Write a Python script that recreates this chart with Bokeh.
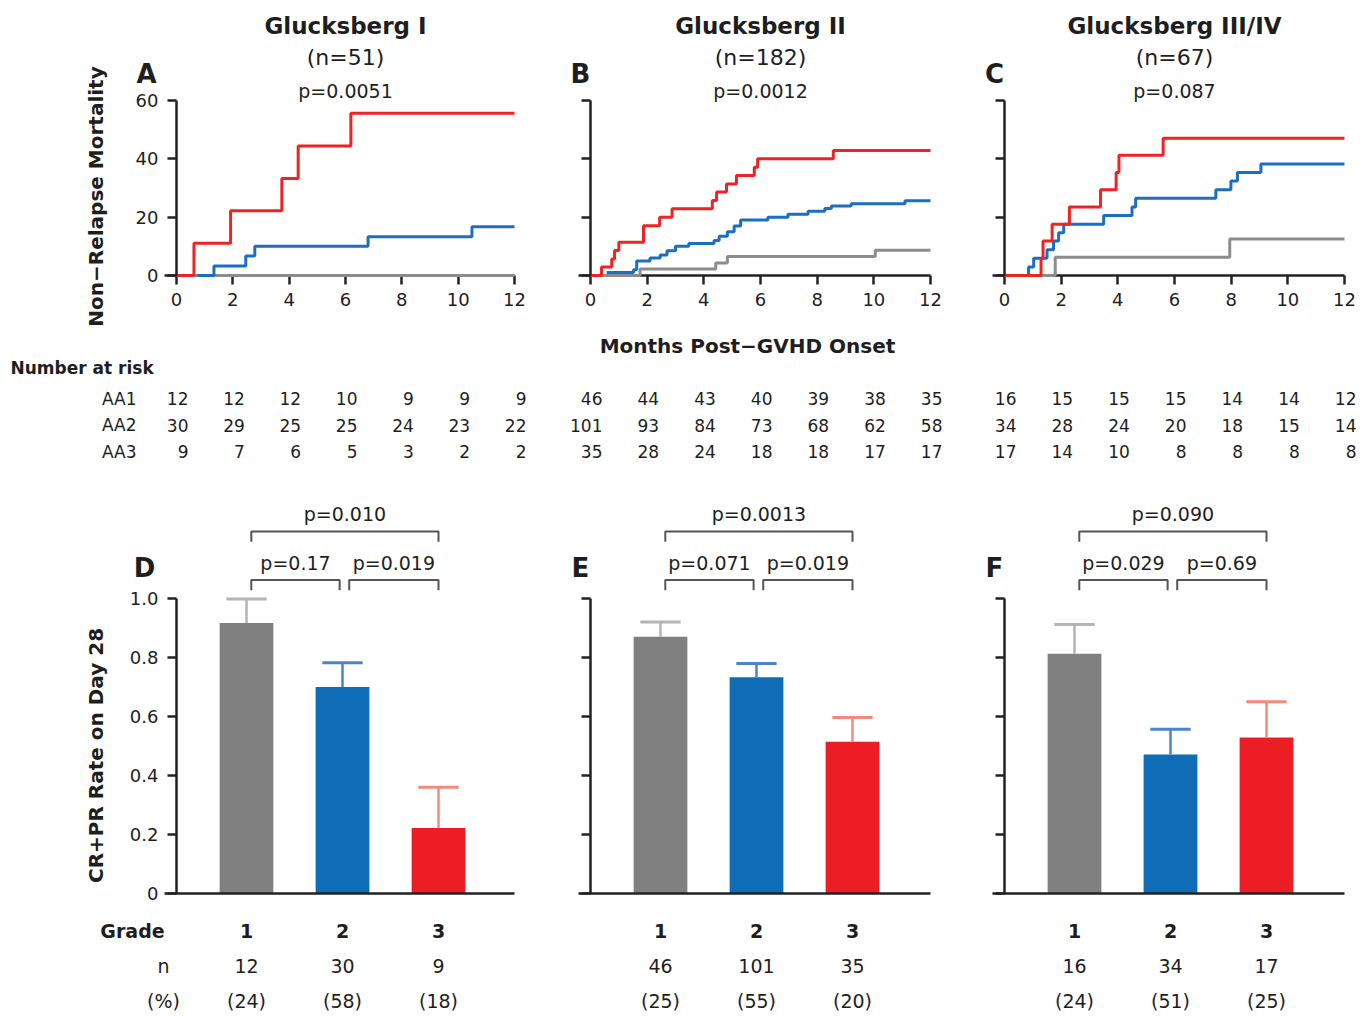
import math
from bokeh.plotting import figure
from bokeh.models import Range1d, FixedTicker
from bokeh.layouts import row, column
from bokeh.embed import file_html
from bokeh.resources import INLINE
from bokeh.core.properties import value

# ---------------- data ----------------
months = [0, 2, 4, 6, 8, 10, 12]
km_y_ticks = [0, 20, 40, 60]
rate_ticks = [0, 0.2, 0.4, 0.6, 0.8, 1.0]
rate_tick_labels = ["0", "0.2", "0.4", "0.6", "0.8", "1.0"]
stage_titles = ["Glucksberg I", "Glucksberg II", "Glucksberg III/IV"]
stage_n = ["(n=51)", "(n=182)", "(n=67)"]
km_pvalues = ["p=0.0051", "p=0.0012", "p=0.087"]
km_letters = ["A", "B", "C"]
bar_letters = ["D", "E", "F"]
groups = ["AA1", "AA2", "AA3"]
km_ylabel = "Non\u2212Relapse Mortality"
km_xlabel = "Months Post\u2212GVHD Onset"
risk_title = "Number at risk"
bar_ylabel = "CR+PR Rate on Day 28"
row_names = ["Grade", "n", "(%)"]

# Panel A (cumulative non-relapse mortality, %)
a_aa1_t = [0, 12]
a_aa1_nrm = [0, 0]
a_aa2_t = [0.74, 1.33, 2.46, 2.78, 6.80, 10.49, 12]
a_aa2_nrm = [0, 3.3, 6.7, 10.0, 13.3, 16.7, 16.7]
a_aa3_t = [0, 0.62, 1.92, 3.74, 4.32, 6.19, 12]
a_aa3_nrm = [0, 11.1, 22.2, 33.3, 44.4, 55.6, 55.6]

# Panel B
b_aa1_t = [0, 1.75, 4.42, 4.83, 10.05, 12]
b_aa1_nrm = [0, 2.2, 4.3, 6.5, 8.7, 8.7]
b_aa2_t = [0.57, 1.52, 1.63, 2.10, 2.46, 2.70, 3.00, 3.47, 4.36, 4.54, 4.83, 5.07,
           5.30, 6.26, 6.97, 7.68, 8.27, 8.50, 9.20, 11.10, 12]
b_aa2_nrm = [1.0, 2.0, 5.0, 6.0, 7.0, 8.5, 10.0, 11.0, 12.0, 13.5, 15.0, 17.0,
             19.0, 20.0, 21.0, 22.0, 23.0, 23.8, 24.6, 25.6, 25.6]
b_aa3_t = [0, 0.39, 0.75, 0.85, 1.00, 1.87, 2.44, 2.88, 4.30, 4.45, 4.80, 5.15,
           5.78, 5.90, 8.57, 12]
b_aa3_nrm = [0, 2.9, 5.7, 8.6, 11.4, 17.1, 20.0, 22.9, 25.7, 28.6, 31.4, 34.3,
             37.1, 40.0, 42.9, 42.9]

# Panel C
c_aa1_t = [0, 1.79, 7.95, 12]
c_aa1_nrm = [0, 6.25, 12.5, 12.5]
c_aa2_t = [0, 0.85, 1.03, 1.50, 1.73, 1.91, 2.09, 3.50, 4.50, 4.63, 7.46, 7.99,
           8.22, 9.05, 12]
c_aa2_nrm = [0, 2.9, 5.9, 8.8, 11.8, 14.7, 17.6, 20.6, 23.5, 26.5, 29.4, 32.4,
             35.3, 38.2, 38.2]
c_aa3_t = [0, 1.29, 1.36, 1.68, 2.29, 3.39, 3.94, 4.04, 5.60, 12]
c_aa3_nrm = [0, 5.9, 11.8, 17.6, 23.5, 29.4, 35.3, 41.2, 47.1, 47.1]

# Number at risk
a_risk_aa1 = [12, 12, 12, 10, 9, 9, 9]
a_risk_aa2 = [30, 29, 25, 25, 24, 23, 22]
a_risk_aa3 = [9, 7, 6, 5, 3, 2, 2]
b_risk_aa1 = [46, 44, 43, 40, 39, 38, 35]
b_risk_aa2 = [101, 93, 84, 73, 68, 62, 58]
b_risk_aa3 = [35, 28, 24, 18, 18, 17, 17]
c_risk_aa1 = [16, 15, 15, 15, 14, 14, 12]
c_risk_aa2 = [34, 28, 24, 20, 18, 15, 14]
c_risk_aa3 = [17, 14, 10, 8, 8, 8, 8]

# CR+PR rate on day 28 by grade
grades = [1, 2, 3]
d_rate = [0.917, 0.700, 0.222]
d_upper = [0.998, 0.782, 0.360]
e_rate = [0.870, 0.733, 0.514]
e_upper = [0.920, 0.780, 0.597]
f_rate = [0.813, 0.471, 0.529]
f_upper = [0.912, 0.557, 0.650]
d_n = [12, 30, 9]
d_pct = [24, 58, 18]
e_n = [46, 101, 35]
e_pct = [25, 55, 20]
f_n = [16, 34, 17]
f_pct = [24, 51, 25]
# comparisons: grade1 vs 2, grade2 vs 3, grade1 vs 3
d_pv = ["p=0.17", "p=0.019", "p=0.010"]
e_pv = ["p=0.071", "p=0.019", "p=0.0013"]
f_pv = ["p=0.029", "p=0.69", "p=0.090"]

km_curves = [
    [(a_aa1_t, a_aa1_nrm), (a_aa2_t, a_aa2_nrm), (a_aa3_t, a_aa3_nrm)],
    [(b_aa1_t, b_aa1_nrm), (b_aa2_t, b_aa2_nrm), (b_aa3_t, b_aa3_nrm)],
    [(c_aa1_t, c_aa1_nrm), (c_aa2_t, c_aa2_nrm), (c_aa3_t, c_aa3_nrm)],
]
risk = [
    [a_risk_aa1, a_risk_aa2, a_risk_aa3],
    [b_risk_aa1, b_risk_aa2, b_risk_aa3],
    [c_risk_aa1, c_risk_aa2, c_risk_aa3],
]
bar_rates = [d_rate, e_rate, f_rate]
bar_uppers = [d_upper, e_upper, f_upper]
bar_ns = [d_n, e_n, f_n]
bar_pcts = [d_pct, e_pct, f_pct]
bar_pvs = [d_pv, e_pv, f_pv]

# ---------------- style / layout ----------------
FONT = "DejaVu Sans"
TXT = "#1e1e1e"
AX = "#222222"
LINE_COLORS = ["#8c8c8c", "#1b6fc2", "#ee2323"]
BAR_COLORS = ["#808080", "#0f6db7", "#ec1d25"]
ERR_COLORS = ["#b4b4b4", "#4a84cc", "#f58a7a"]
BRACKET = "#555555"

COL_X = [0, 560, 975, 1366]        # page x boundaries of the three columns
FRAME_L = [176, 590, 1004]         # page x of each y axis
FRAME_W = [338, 340, 340]          # axis lengths
AX_EXT = 12                        # x axis line extends left of the y axis
KM_TOP, KM_BOT = 0, 331
TAB_BOT = 472
BAR_BOT = 910
N_BOT = 1015
KM_ZERO, KM_K = 275.0, 175 / 60.0  # page y of 0 %, px per %
TAB_ROW1, TAB_K = 451.0, 26.5      # page y of AA3 row, px per row
BAR_ZERO, BAR_K = 893.0, 295.0     # page y of rate 0, px per unit rate
N_ZERO, N_K = 1000.0, 35.0         # page y of (%) row, px per row
CAT_K = 96.0                       # px per grade
BAR1_OFF = 70.0                    # px from y axis to first bar centre


def month_at(ci, px):
    return (px - FRAME_L[ci]) * 12.0 / FRAME_W[ci]


def cat_at(ci, px):
    return 1 + (px - FRAME_L[ci] - BAR1_OFF) / CAT_K


def km_v(py):
    return (KM_ZERO - py) / KM_K


def tab_v(py):
    return 1 + (TAB_ROW1 - py) / TAB_K


def bar_v(py):
    return (BAR_ZERO - py) / BAR_K


def n_v(py):
    return (N_ZERO - py) / N_K


def make_fig(ci, xr, y0, y1, h, axes):
    w = COL_X[ci + 1] - COL_X[ci]
    p = figure(width=w, height=h, x_range=xr, y_range=Range1d(y0, y1),
               output_backend="svg", toolbar_location=None,
               x_axis_location="below" if axes else None,
               y_axis_location="left" if axes else None)
    p.min_border_left = 0
    p.min_border_right = 0
    p.min_border_top = 0
    p.min_border_bottom = 0
    p.outline_line_color = None
    p.background_fill_color = "white"
    p.border_fill_color = "white"
    p.grid.visible = False
    return p


def style_axis(ax, tick_out=9):
    ax.axis_line_width = 2.5
    ax.axis_line_color = AX
    ax.major_tick_line_width = 2.5
    ax.major_tick_line_color = AX
    ax.major_tick_out = tick_out
    ax.major_tick_in = 0
    ax.minor_tick_line_color = None
    ax.major_label_text_font = FONT
    ax.major_label_text_color = TXT


def put_text(p, x, y, texts, size, bold=False, align="center", angle=0.0, x_offset=0):
    p.text(x=x, y=y, text=texts, text_font=value(FONT), text_font_size=size,
           text_font_style="bold" if bold else "normal", text_align=align,
           text_baseline="middle", text_color=TXT, angle=angle, x_offset=x_offset)


columns = []
for ci in range(3):
    # ---------- NRM panel ----------
    mxr = Range1d(month_at(ci, COL_X[ci]), month_at(ci, COL_X[ci + 1]))
    km = make_fig(ci, mxr, km_v(KM_BOT), km_v(KM_TOP), KM_BOT - KM_TOP, True)
    for (t, v), colr in zip(km_curves[ci], LINE_COLORS):
        km.step(t, v, mode="after", line_width=3, line_color=colr)
    style_axis(km.xaxis[0])
    style_axis(km.yaxis[0])
    km.xaxis.level = "underlay"
    km.xaxis.fixed_location = 0
    km.yaxis.fixed_location = 0
    km.xaxis.ticker = FixedTicker(ticks=months)
    km.xaxis.bounds = (month_at(ci, FRAME_L[ci] - AX_EXT), 12)
    km.xaxis.major_label_text_font_size = "18px"
    km.xaxis.major_label_standoff = 8
    km.yaxis.ticker = FixedTicker(ticks=km_y_ticks)
    km.yaxis.bounds = (0, 60)
    km.yaxis.major_label_standoff = 9
    km.yaxis.major_label_text_font_size = "18px"
    if ci != 0:
        km.yaxis.major_label_overrides = {t: "" for t in km_y_ticks}
    else:
        put_text(km, [month_at(0, 95)], [km_v(196)], [km_ylabel], "20px", bold=True,
                 angle=math.pi / 2)
    put_text(km, [6], [km_v(25)], [stage_titles[ci]], "23px", bold=True)
    put_text(km, [6], [km_v(57)], [stage_n[ci]], "22px")
    put_text(km, [6], [km_v(90)], [km_pvalues[ci]], "19px")
    letter_dx = -30 if ci == 0 else -10
    put_text(km, [month_at(ci, FRAME_L[ci] + letter_dx)], [km_v(73)], [km_letters[ci]],
             "26px", bold=True)

    # ---------- number at risk ----------
    tab = make_fig(ci, mxr, tab_v(TAB_BOT), tab_v(KM_BOT), TAB_BOT - KM_BOT, False)
    for gi, counts in enumerate(risk[ci]):
        row_y = 3 - gi
        put_text(tab, months, [row_y] * len(months), [str(c) for c in counts], "17px",
                 align="right", x_offset=12)
        if ci == 0:
            put_text(tab, [month_at(0, 136)], [row_y], [groups[gi]], "17px", align="right")
    if ci == 0:
        put_text(tab, [month_at(0, 10)], [tab_v(367)], [risk_title], "17px", bold=True,
                 align="left")
    if ci == 1:
        put_text(tab, [month_at(1, 747)], [tab_v(345)], [km_xlabel], "20px", bold=True)

    # ---------- CR+PR bars ----------
    cxr = Range1d(cat_at(ci, COL_X[ci]), cat_at(ci, COL_X[ci + 1]))
    axis_x = cat_at(ci, FRAME_L[ci])
    bar = make_fig(ci, cxr, bar_v(BAR_BOT), bar_v(TAB_BOT), BAR_BOT - TAB_BOT, True)
    rates = bar_rates[ci]
    ups = bar_uppers[ci]
    bar.vbar(x=grades, top=rates, width=0.56, fill_color=BAR_COLORS, line_color=None)
    bar.segment(x0=grades, y0=rates, x1=grades, y1=ups, line_color=ERR_COLORS, line_width=2.5)
    bar.segment(x0=[g - 0.21 for g in grades], y0=ups, x1=[g + 0.21 for g in grades],
                y1=ups, line_color=ERR_COLORS, line_width=3)
    style_axis(bar.yaxis[0])
    style_axis(bar.xaxis[0], tick_out=0)
    bar.yaxis.fixed_location = axis_x
    bar.xaxis.fixed_location = 0
    bar.yaxis.ticker = FixedTicker(ticks=rate_ticks)
    bar.yaxis.bounds = (0, 1)
    bar.yaxis.major_label_standoff = 9
    bar.yaxis.major_label_text_font_size = "18px"
    if ci == 0:
        bar.yaxis.major_label_overrides = dict(zip(rate_ticks, rate_tick_labels))
        put_text(bar, [cat_at(0, 95)], [bar_v(755)], [bar_ylabel], "20px", bold=True,
                 angle=math.pi / 2)
    else:
        bar.yaxis.major_label_overrides = {t: "" for t in rate_ticks}
    bar.xaxis.ticker = FixedTicker(ticks=[])
    bar.xaxis.bounds = (cat_at(ci, FRAME_L[ci] - AX_EXT), cat_at(ci, FRAME_L[ci] + FRAME_W[ci]))

    # significance brackets
    pairs = [(0, 1, 0), (1, 2, 0), (0, 2, 1)]
    levels = [1.063, 1.227]
    text_levels = [1.119, 1.288]
    drop = 0.035
    for (a, b, lev), ptxt in zip(pairs, bar_pvs[ci]):
        left = grades[a] + (0.05 if a == 0 else 0.07)
        right = grades[b] - (0.03 if b == 1 else 0.0)
        yl = levels[lev]
        bar.line([left, left, right, right], [yl - drop, yl, yl, yl - drop],
                 line_color=BRACKET, line_width=2)
        put_text(bar, [(left + right) / 2], [text_levels[lev]], [ptxt], "19px")
    letter_dx = -32 if ci == 0 else -10
    put_text(bar, [cat_at(ci, FRAME_L[ci] + letter_dx)], [bar_v(567)], [bar_letters[ci]],
             "26px", bold=True)

    # ---------- Grade / n / (%) ----------
    nf = make_fig(ci, cxr, n_v(N_BOT), n_v(BAR_BOT), N_BOT - BAR_BOT, False)
    put_text(nf, grades, [2] * 3, [str(g) for g in grades], "19px", bold=True)
    put_text(nf, grades, [1] * 3, [str(v) for v in bar_ns[ci]], "19px")
    put_text(nf, grades, [0] * 3, ["(%d)" % v for v in bar_pcts[ci]], "19px")
    if ci == 0:
        put_text(nf, [cat_at(0, 132)], [2], [row_names[0]], "19px", bold=True)
        put_text(nf, [cat_at(0, 163)], [1], [row_names[1]], "19px")
        put_text(nf, [cat_at(0, 163)], [0], [row_names[2]], "19px")

    columns.append(column(km, tab, bar, nf, spacing=0))

layout = row(*columns, spacing=0)
open("out.html", "w").write(file_html(layout, INLINE))
